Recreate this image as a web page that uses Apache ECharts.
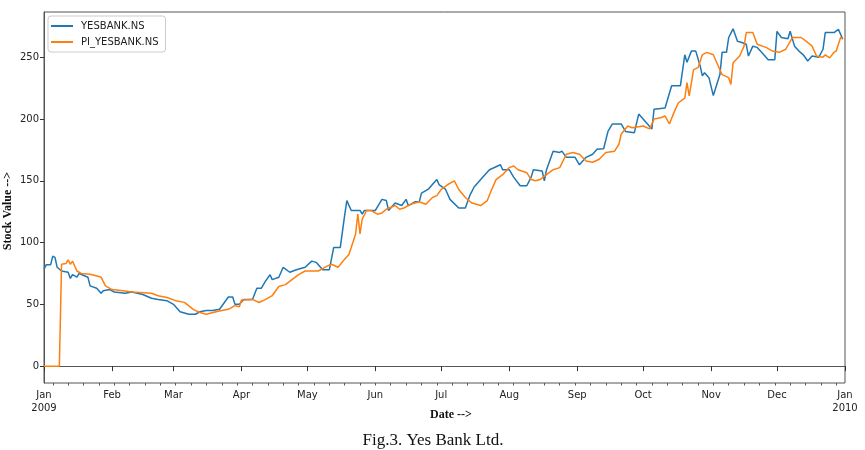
<!DOCTYPE html>
<html><head><meta charset="utf-8">
<script src="https://cdn.jsdelivr.net/npm/echarts@6/dist/echarts.min.js"></script>
<style>html,body{margin:0;padding:0;background:#fff}#c{width:865px;height:450px}</style>
</head><body><div id="c"></div>
<script>
// ---- data ----
const yesDates = ['2009-01-01','2009-01-02','2009-01-04','2009-01-05','2009-01-06','2009-01-07','2009-01-09','2009-01-12','2009-01-13','2009-01-14','2009-01-16','2009-01-17','2009-01-21','2009-01-22','2009-01-25','2009-01-27','2009-01-28','2009-01-31',
'2009-02-02','2009-02-07','2009-02-10','2009-02-15','2009-02-19','2009-02-22','2009-02-26',
'2009-03-01','2009-03-04','2009-03-08','2009-03-11','2009-03-13','2009-03-16','2009-03-19','2009-03-22','2009-03-26','2009-03-28','2009-03-29','2009-03-31',
'2009-04-02','2009-04-06','2009-04-08','2009-04-10','2009-04-12','2009-04-14','2009-04-15','2009-04-18','2009-04-20','2009-04-23','2009-04-26','2009-04-30',
'2009-05-03','2009-05-05','2009-05-06','2009-05-08','2009-05-11','2009-05-13','2009-05-16','2009-05-18','2009-05-19','2009-05-21','2009-05-25','2009-05-26','2009-05-27',
'2009-06-01','2009-06-04','2009-06-06','2009-06-07','2009-06-10','2009-06-13','2009-06-15','2009-06-16','2009-06-19','2009-06-21','2009-06-22','2009-06-25','2009-06-29','2009-06-30',
'2009-07-03','2009-07-05','2009-07-09','2009-07-12','2009-07-14','2009-07-16','2009-07-20','2009-07-23','2009-07-28','2009-07-29',
'2009-08-01','2009-08-03','2009-08-06','2009-08-09','2009-08-11','2009-08-12','2009-08-16','2009-08-17','2009-08-18','2009-08-21','2009-08-24','2009-08-25','2009-08-27','2009-08-31',
'2009-09-02','2009-09-05','2009-09-08','2009-09-10','2009-09-13','2009-09-15','2009-09-17','2009-09-21','2009-09-23','2009-09-27','2009-09-29',
'2009-10-01','2009-10-05','2009-10-06','2009-10-11','2009-10-14','2009-10-18','2009-10-20','2009-10-21','2009-10-23','2009-10-25','2009-10-27','2009-10-28','2009-10-29','2009-10-31',
'2009-11-02','2009-11-05','2009-11-06','2009-11-08','2009-11-09','2009-11-11','2009-11-13','2009-11-15','2009-11-17','2009-11-18','2009-11-20','2009-11-22','2009-11-24','2009-11-27','2009-11-30',
'2009-12-01','2009-12-03','2009-12-06','2009-12-07','2009-12-09','2009-12-11','2009-12-13','2009-12-15','2009-12-17','2009-12-20','2009-12-22','2009-12-23','2009-12-27','2009-12-29','2009-12-31'];
const yesValues = [78.5,82,82,89,88,80,77,76,71,74,72,75,72,65,63,59,61,62,
60,59,60,58,55,54,53,
50,44,42,42,44,45,45,46,56,56,50,50,
54,54,63,63,69,74,70,72,80,76,78,80,
85,84,82,78,78,96,96,122,134,126,126,123,126,
126,135,134,126,132,130,135,130,133,133,140,143,151,147,
143,135,128,128,138,145,153,159,163,159,
159,153,146,146,153,159,158,150,159,174,173,174,169,169,
163,169,171.5,175.6,176,190,196,196,190,189,204,
200,192,208,209,227,227,252,246,255,255,243,235,237.5,233.5,
219,236,254,254,266,273,263,262,260.5,251,259,258,254,248,248,
271,266,265,271,259,255,252,247,251,250,256.5,270,270,272.6,264.6];

const piDates = ['2009-01-01','2009-01-08','2009-01-09','2009-01-11','2009-01-12','2009-01-13','2009-01-14','2009-01-16','2009-01-18','2009-01-22','2009-01-26','2009-01-27','2009-01-29',
'2009-02-01','2009-02-06','2009-02-10','2009-02-19','2009-02-22','2009-02-26',
'2009-03-02','2009-03-06','2009-03-08','2009-03-10','2009-03-13','2009-03-16','2009-03-19','2009-03-23','2009-03-26','2009-03-29','2009-03-31',
'2009-04-01','2009-04-06','2009-04-09','2009-04-12','2009-04-15','2009-04-17','2009-04-18','2009-04-21','2009-04-24','2009-04-27','2009-04-30',
'2009-05-03','2009-05-06','2009-05-10','2009-05-12','2009-05-15','2009-05-18','2009-05-20','2009-05-21','2009-05-23','2009-05-24','2009-05-25','2009-05-26','2009-05-28','2009-05-30',
'2009-06-02','2009-06-04','2009-06-06','2009-06-10','2009-06-12','2009-06-14','2009-06-17','2009-06-21','2009-06-24','2009-06-27','2009-06-29',
'2009-07-01','2009-07-04','2009-07-07','2009-07-09','2009-07-12','2009-07-15','2009-07-19','2009-07-22','2009-07-24','2009-07-26','2009-07-29',
'2009-08-01','2009-08-03','2009-08-05','2009-08-09','2009-08-11','2009-08-13','2009-08-15','2009-08-18','2009-08-21','2009-08-24','2009-08-27','2009-08-30',
'2009-09-02','2009-09-05','2009-09-08','2009-09-11','2009-09-14','2009-09-18','2009-09-20','2009-09-21','2009-09-24','2009-09-26',
'2009-10-01','2009-10-04','2009-10-06','2009-10-09','2009-10-11','2009-10-13','2009-10-15','2009-10-17','2009-10-20','2009-10-21','2009-10-22','2009-10-24','2009-10-26','2009-10-28','2009-10-30',
'2009-11-02','2009-11-04','2009-11-06','2009-11-09','2009-11-10','2009-11-11','2009-11-14','2009-11-16','2009-11-17','2009-11-20','2009-11-22','2009-11-26','2009-11-29',
'2009-12-02','2009-12-05','2009-12-08','2009-12-12','2009-12-15','2009-12-17','2009-12-19','2009-12-22','2009-12-23','2009-12-25','2009-12-27','2009-12-28','2009-12-30','2009-12-31'];
const piValues = [0,0,82.5,83,86,82.5,85,77,75,74.4,72.5,72,65,
62,61,60,59,57,55.5,
53,51.6,48.8,46,43.4,42,43.4,45,46,49,48,
53.6,54,51.5,54,57,62,64.5,66,70,74,77,
77,77,81,82.5,80,86.6,90.6,96,107,123,107,119,126,126,
123,124,127,130,127,128,131,133,131,136.5,138,
143,147,150,143,136.5,132,130,134,143,151,155,
160.7,162,159,156.6,151,150,151,155,159,160.7,171.5,173,
171.5,166,165,167.5,173,174,179.6,187.7,194.4,193,
194.4,192,200,201,202.5,196,205,213,217,229.5,218.7,240,241.6,252,254,
252,244,236,233.5,228,245.6,251,259,270,270,260.5,258,255,
254,256.5,266,266,262,259,251,250,252,249.5,254,255,266,265];

const monthTickDates = ['2009-01-01','2009-02-01','2009-03-01','2009-04-01','2009-05-01','2009-06-01','2009-07-01','2009-08-01','2009-09-01','2009-10-01','2009-11-01','2009-12-01','2010-01-01'];
const monthNames = ['Jan','Feb','Mar','Apr','May','Jun','Jul','Aug','Sep','Oct','Nov','Dec'];
const yTicks = [0,50,100,150,200,250];
const seriesNames = ['YESBANK.NS','PI_YESBANK.NS'];

// ---- helpers ----
const toTs = s => { const p = s.split('-').map(Number); return new Date(p[0], p[1]-1, p[2]).getTime(); };
const monthTs = monthTickDates.map(toTs);
const minorTs = [];
for (let k = 0; ; k++) { const t = new Date(2009, 0, 5 + 7*k).getTime(); if (t >= monthTs[monthTs.length-1]) break; minorTs.push(t); }

const xMin = monthTs[0], xMax = monthTs[monthTs.length-1];
const tickFont = { fontFamily: 'DejaVu Sans', fontSize: 10, color: '#222' };

const chart = echarts.init(document.getElementById('c'), null, { renderer: 'canvas' });
chart.setOption({
  animation: false,
  backgroundColor: '#fff',
  grid: { left: 44, right: 20, top: 12, bottom: 67, show: true, borderColor: '#555', borderWidth: 1, containLabel: false },
  legend: {
    orient: 'vertical', left: 48, top: 16,
    data: seriesNames,
    icon: 'rect', itemWidth: 22, itemHeight: 2, itemGap: 4,
    padding: [4, 7, 4, 3],
    borderColor: '#ccc', borderWidth: 1, borderRadius: 3,
    backgroundColor: 'rgba(255,255,255,0.8)',
    textStyle: { fontFamily: 'DejaVu Sans', fontSize: 10, color: '#222', lineHeight: 12, padding: [0,0,0,3] }
  },
  xAxis: [{
    type: 'value', min: xMin, max: xMax,
    axisLine: { show: true, lineStyle: { color: '#555', width: 1 } },
    axisTick: { show: true, customValues: monthTs, length: 5, lineStyle: { color: '#333' } },
    axisLabel: Object.assign({ customValues: monthTs, margin: 6, lineHeight: 13,
      formatter: v => { const d = new Date(v); const m = monthNames[d.getMonth()]; return d.getMonth() === 0 ? m + '\n' + d.getFullYear() : m; } }, tickFont),
    splitLine: { show: false }
  }, {
    type: 'value', min: xMin, max: xMax, position: 'bottom', gridIndex: 0,
    axisLine: { show: false },
    axisTick: { show: true, customValues: minorTs, length: 2.5, lineStyle: { color: '#555' } },
    axisLabel: { show: false },
    splitLine: { show: false }
  }],
  yAxis: {
    type: 'value', min: -13.65, max: 286.65,
    axisLine: { show: true, lineStyle: { color: '#555', width: 1 } },
    axisTick: { show: true, customValues: yTicks, length: 4, lineStyle: { color: '#333' } },
    axisLabel: Object.assign({ customValues: yTicks, margin: 5 }, tickFont),
    splitLine: { show: false }
  },
  graphic: [
    { type: 'text', x: 451, y: 415, style: { text: 'Date -->', font: 'bold 12px "Liberation Serif"', fill: '#111', align: 'center', verticalAlign: 'middle' } },
    { type: 'text', x: 8, y: 211, rotation: Math.PI/2, style: { text: 'Stock Value -->', font: 'bold 12px "Liberation Serif"', fill: '#111', align: 'center', verticalAlign: 'middle' } },
    { type: 'text', x: 433, y: 441, style: { text: 'Fig.3. Yes Bank Ltd.', font: '17px "Liberation Serif"', fill: '#111', align: 'center', verticalAlign: 'middle' } }
  ],
  series: [{
    name: seriesNames[0], type: 'line', showSymbol: false, symbol: 'none',
    data: yesDates.map((d, i) => [toTs(d), yesValues[i]]),
    lineStyle: { color: '#1f77b4', width: 1.5 }, itemStyle: { color: '#1f77b4' }
  }, {
    name: seriesNames[1], type: 'line', showSymbol: false, symbol: 'none',
    data: piDates.map((d, i) => [toTs(d), piValues[i]]),
    lineStyle: { color: '#ff7f0e', width: 1.5 }, itemStyle: { color: '#ff7f0e' }
  }]
});
</script>
</body></html>
